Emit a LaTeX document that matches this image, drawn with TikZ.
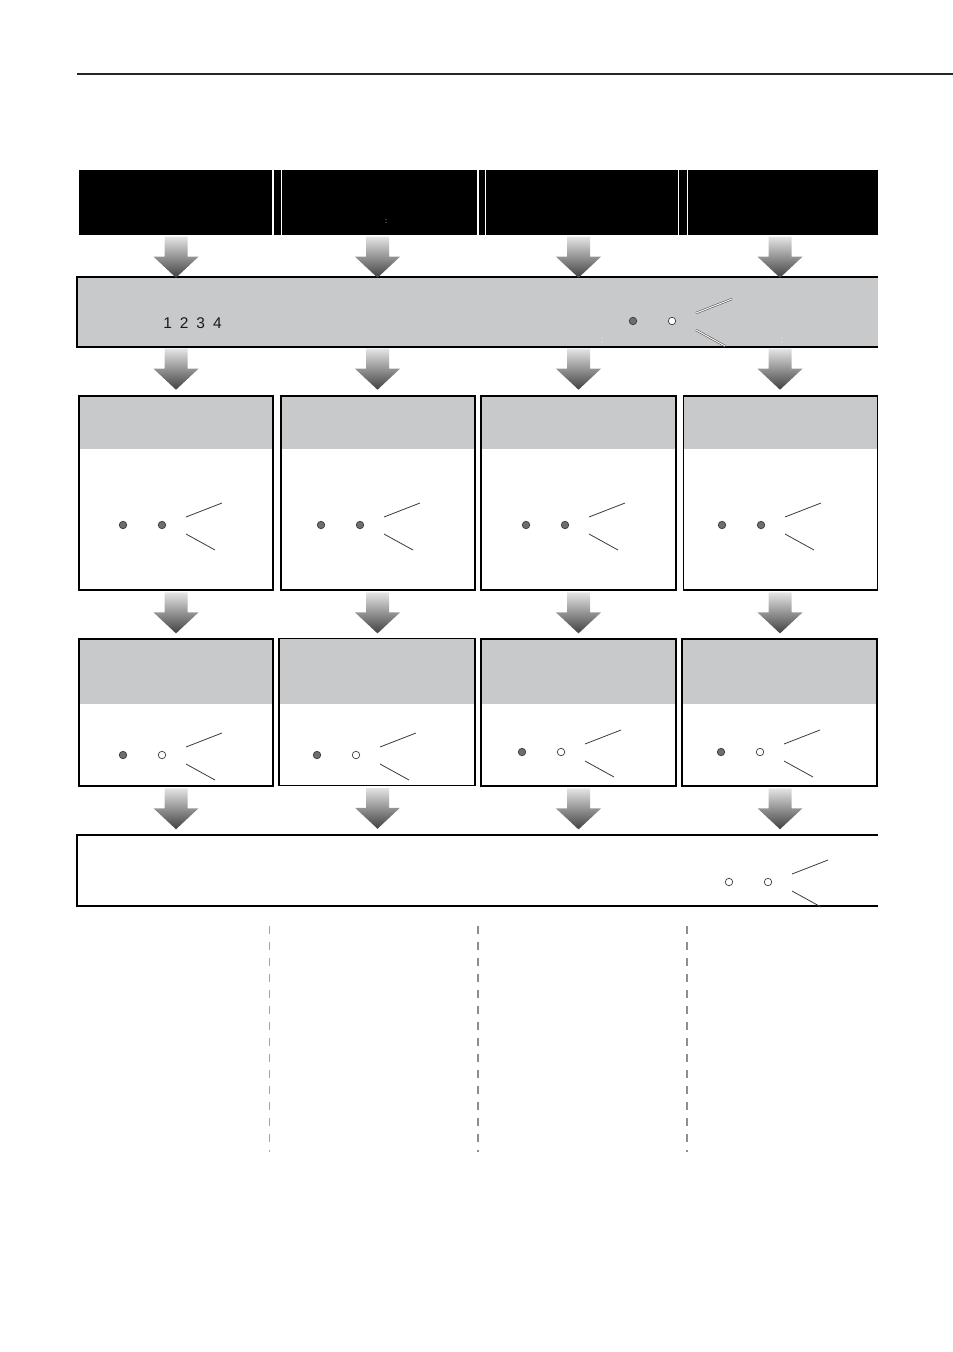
\documentclass[tikz,border=0pt]{standalone}
\usepackage{fontspec}
\setmainfont{Liberation Sans}
\usetikzlibrary{calc}

\definecolor{panel}{HTML}{C8C9CB}
\definecolor{ledon}{HTML}{6E6E6E}
\definecolor{ledrim}{HTML}{3A3A3A}
\definecolor{arrtop}{HTML}{E4E4E4}
\definecolor{arrbot}{HTML}{404040}
\definecolor{guide}{HTML}{8E8E8E}

\newcommand{\blockdown}[1]{%
  \shade[top color=arrtop, bottom color=arrbot]
    let \p1=(#1) in
    (\x1-11.5pt,\y1-1.5pt) -- (\x1+11.5pt,\y1-1.5pt) -- (\x1+11.5pt,\y1-21.5pt)
    -- (\x1+22.5pt,\y1-21.5pt) -- (\x1,\y1-42.5pt) -- (\x1-22.5pt,\y1-21.5pt)
    -- (\x1-11.5pt,\y1-21.5pt) -- cycle;}
\newcommand{\ledpair}[5]{%
  \node[#4] (#1a) at (#2,#3) {};
  \node[#5] (#1b) at (#2+39,#3) {};
  \draw[tick] (#2+63,#3-8) -- (#2+99,#3-22);
  \draw[tick] (#2+63,#3+9) -- (#2+92,#3+25);}

\begin{document}
\begin{tikzpicture}[x=1pt,y=-1pt,
  hd/.style={fill=black,inner sep=0pt,minimum height=65pt},
  unit/.style={draw,line width=1.8pt,inner sep=0pt,minimum width=194pt,minimum height=194pt,
    path picture={\fill[panel] (path picture bounding box.north west) rectangle ([yshift=-53pt]path picture bounding box.north east);}},
  sub/.style={draw,line width=1.5pt,inner sep=0pt,minimum width=194pt,minimum height=147pt,
    path picture={\fill[panel] (path picture bounding box.north west) rectangle ([yshift=-65pt]path picture bounding box.north east);}},
  on/.style={circle,draw=ledrim,fill=ledon,line width=0.7pt,minimum size=7.5pt,inner sep=0pt},
  off/.style={circle,draw=ledrim,fill=white,line width=0.7pt,minimum size=7.5pt,inner sep=0pt},
  tick/.style={draw=ledrim,line width=0.8pt},
  dotmark/.style={text=white,inner sep=0pt,font=\fontsize{7}{7}\selectfont}]
  \useasboundingbox (0,0) rectangle (953,1352);
  \draw[line width=1.2pt,black!85] (77,74) -- (953,74);

  \coordinate (c1) at (176,0);
  \coordinate (c2) at (377.5,0);
  \coordinate (c3) at (578.5,0);
  \coordinate (c4) at (780,0);

  \node[hd,minimum width=193pt] (hd1) at (175.5,202.5) {};
  \node[hd,minimum width=195pt] (hd2) at (379.5,202.5) {};
  \node[hd,minimum width=192pt] (hd3) at (582,202.5) {};
  \node[hd,minimum width=190pt] (hd4) at (783,202.5) {};
  \fill ([xshift=2pt]hd1.north east) rectangle ([xshift=-1pt]hd2.south west);
  \fill ([xshift=2pt]hd2.north east) rectangle ([xshift=-1pt]hd3.south west);
  \fill ([xshift=1pt]hd3.north east) rectangle ([xshift=-1pt]hd4.south west);
  \node[dotmark] (hdmark) at (386,222) {:};

  \node[fill=panel,inner sep=0pt,minimum width=801pt,minimum height=70pt] (band) at (477.5,312) {};
  \draw[line width=1.7pt] (band.north east) -- (band.north west) -- (band.south west) -- (band.south east);
  \node[text=black!90,inner sep=0pt,font=\fontsize{15.5}{15.5}\selectfont] (nums) at (192.5,323) {1\hspace{8pt}2\hspace{8pt}3\hspace{8pt}4};
  \node[dotmark] (bandmark1) at (602,341) {:};
  \node[dotmark] (bandmark2) at (782,341) {:};
  \begin{scope}[tick/.style={draw=ledrim,line width=0.5pt,double=white,double distance=1pt}]
    \ledpair{bandled}{633}{321}{on}{off}
  \end{scope}

  \node[unit] (ua1) at (176,493) {};
  \node[unit] (ua2) at (378,493) {};
  \node[unit,minimum width=195pt] (ua3) at (578.5,493) {};
  \node[unit] (ua4) at (780.5,493) {};
  \ledpair{la1}{123}{525}{on}{on}
  \ledpair{la2}{321}{525}{on}{on}
  \ledpair{la3}{526}{525}{on}{on}
  \ledpair{la4}{722}{525}{on}{on}

  \node[sub] (ub1) at (176,712.5) {};
  \node[sub,minimum width=196pt] (ub2) at (377,712) {};
  \node[sub,line width=1.8pt,minimum width=195pt] (ub3) at (578.5,712.5) {};
  \node[sub,minimum width=195pt] (ub4) at (779.5,712.5) {};
  \ledpair{lb1}{123}{755}{on}{off}
  \ledpair{lb2}{317}{755}{on}{off}
  \ledpair{lb3}{522}{752}{on}{off}
  \ledpair{lb4}{721}{752}{on}{off}

  \node[inner sep=0pt,minimum width=801pt,minimum height=71pt] (tail) at (477.5,870.5) {};
  \draw[line width=2pt] (tail.north east) -- (tail.north west) -- (tail.south west) -- (tail.south east);
  \ledpair{lt}{729}{882}{off}{off}

  \foreach \i in {1,...,4} {
    \blockdown{hd\i.south -| c\i}
    \blockdown{band.south -| c\i}
    \blockdown{ua\i.south -| c\i}
    \blockdown{ub\i.south -| c\i}
  }

  \draw[guide!80,line width=1pt,dash pattern=on 8pt off 8pt] (269.5,926) -- (269.5,1152);
  \draw[guide,line width=1.5pt,dash pattern=on 8pt off 8pt] (478,926) -- (478,1152);
  \draw[guide,line width=1.5pt,dash pattern=on 8pt off 8pt] (687,926) -- (687,1152);
\end{tikzpicture}
\end{document}
